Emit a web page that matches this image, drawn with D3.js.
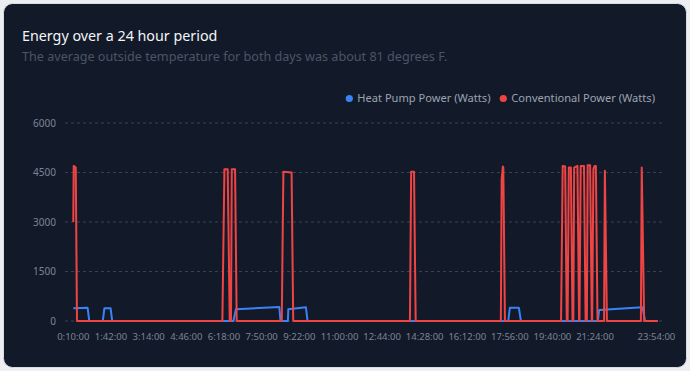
<!DOCTYPE html>
<html>
<head>
<meta charset="utf-8">
<script src="https://cdn.jsdelivr.net/npm/d3@7"></script>
<style>
  html, body { margin: 0; padding: 0; background: #eceef1; }
  svg { display: block; }
  text { font-family: "Noto Sans", "Open Sans", sans-serif; }
</style>
</head>
<body>
<svg id="chart" width="690" height="371"></svg>
<script>
// ---- data ----
const title = "Energy over a 24 hour period";
const subtitle = "The average outside temperature for both days was about 81 degrees F.";
const seriesNames = ["Heat Pump Power (Watts)", "Conventional Power (Watts)"];
const seriesColors = ["#3b82f6", "#ef4444"];

const xTickLabels = ["0:10:00", "1:42:00", "3:14:00", "4:46:00", "6:18:00", "7:50:00", "9:22:00",
  "11:00:00", "12:44:00", "14:28:00", "16:12:00", "17:56:00", "19:40:00", "21:24:00", "23:54:00"];
const yTicks = [0, 1500, 3000, 4500, 6000];

const heatPumpTimes = ["0:10", "0:45", "0:49", "1:22", "1:26", "1:41", "1:45", "6:41", "6:47", "8:33",
  "8:36", "8:54", "8:55", "9:38", "9:42", "17:52", "17:56", "18:18", "18:23", "21:31", "21:34",
  "23:20", "23:26", "23:57"];
const heatPumpWatts = [385, 400, 0, 0, 390, 390, 0, 0, 355, 424,
  0, 0, 355, 415, 0, 0, 400, 400, 0, 0, 333,
  415, 0, 0];

const conventionalTimes = ["0:10", "0:11", "0:16", "0:19", "6:14", "6:19", "6:27", "6:32", "6:35", "6:37",
  "6:45", "6:49", "8:39", "8:43", "9:03", "9:07", "13:52", "13:55", "14:02", "14:06",
  "17:34", "17:36", "17:39", "17:40", "17:44", "20:01", "20:05", "20:11", "20:15", "20:17",
  "20:20", "20:25", "20:29", "20:31", "20:33", "20:41", "20:45", "20:46", "20:49", "20:57",
  "21:01", "21:04", "21:06", "21:12", "21:16", "21:17", "21:20", "21:23", "21:26", "21:30",
  "21:46", "21:48", "21:53", "23:16", "23:18", "23:24", "23:57"];
const conventionalWatts = [3000, 4700, 4650, 0, 0, 4600, 4600, 0, 0, 4600,
  4600, 0, 0, 4525, 4500, 0, 0, 4525, 4525, 0,
  0, 4300, 4680, 4650, 0, 0, 4700, 4680, 0, 0,
  4650, 4650, 0, 0, 4650, 4700, 0, 0, 4700, 4700,
  0, 0, 4720, 4720, 0, 0, 4600, 4700, 4700, 0,
  0, 4550, 0, 0, 4650, 0, 0];

// ---- helpers ----
function toMinutes(s) {
  const p = s.split(":").map(Number);
  return p[0] * 60 + p[1] + (p[2] || 0) / 60;
}
const hp = heatPumpTimes.map((t, i) => ({ t: toMinutes(t), v: heatPumpWatts[i] }));
const conv = conventionalTimes.map((t, i) => ({ t: toMinutes(t), v: conventionalWatts[i] }));

// ---- layout ----
const W = 690, H = 371;
const svg = d3.select("#chart");

svg.append("rect")
  .attr("x", 3.5).attr("y", 3.5).attr("width", W - 7).attr("height", H - 7)
  .attr("rx", 9).attr("fill", "#121a2a").attr("stroke", "#d9dce1").attr("stroke-width", 1);

svg.append("text").attr("x", 22).attr("y", 40.5)
  .attr("fill", "#f3f4f6").attr("font-size", 14.3).text(title);
svg.append("text").attr("x", 22).attr("y", 60.5)
  .attr("fill", "#4b5563").attr("font-size", 12.6).text(subtitle);

const allT = hp.concat(conv).map(d => d.t);
const x = d3.scaleLinear().domain(d3.extent(allT)).range([73.3, 657.7]);
const y = d3.scaleLinear().domain([0, 6000]).range([321, 123]);

const gridLeft = 65, gridRight = 663;

// grid + y labels
const yAxis = svg.append("g");
yAxis.selectAll("line").data(yTicks).join("line")
  .attr("x1", gridLeft).attr("x2", gridRight)
  .attr("y1", d => y(d)).attr("y2", d => y(d))
  .attr("stroke", "#3a4252").attr("stroke-width", 1).attr("stroke-dasharray", "3,3");
yAxis.selectAll("text").data(yTicks).join("text")
  .attr("x", 56).attr("y", d => y(d)).attr("dy", "0.35em")
  .attr("text-anchor", "end").attr("fill", "#7c8493").attr("font-size", 10)
  .text(d => d);

// x labels
const xAxis = svg.append("g");
xAxis.selectAll("text").data(xTickLabels).join("text")
  .attr("x", d => x(toMinutes(d))).attr("y", 340)
  .attr("text-anchor", "middle").attr("fill", "#7c8493").attr("font-size", 9.5)
  .text(d => d);

// lines
const line = d3.line().x(d => x(d.t)).y(d => y(d.v));
svg.append("path").datum(hp).attr("d", line)
  .attr("fill", "none").attr("stroke", seriesColors[0]).attr("stroke-width", 2)
  .attr("stroke-linejoin", "round");
svg.append("path").datum(conv).attr("d", line)
  .attr("fill", "none").attr("stroke", seriesColors[1]).attr("stroke-width", 2)
  .attr("stroke-linejoin", "round");

// legend
const legend = svg.append("g");
const legendX = [349.3, 503.3];
seriesNames.forEach((name, i) => {
  legend.append("circle").attr("cx", legendX[i]).attr("cy", 98.5).attr("r", 3.6)
    .attr("fill", seriesColors[i]);
  legend.append("text").attr("x", legendX[i] + 8).attr("y", 98.5).attr("dy", "0.35em")
    .attr("fill", "#9ca3af").attr("font-size", 11.1).text(name);
});
</script>
</body>
</html>
